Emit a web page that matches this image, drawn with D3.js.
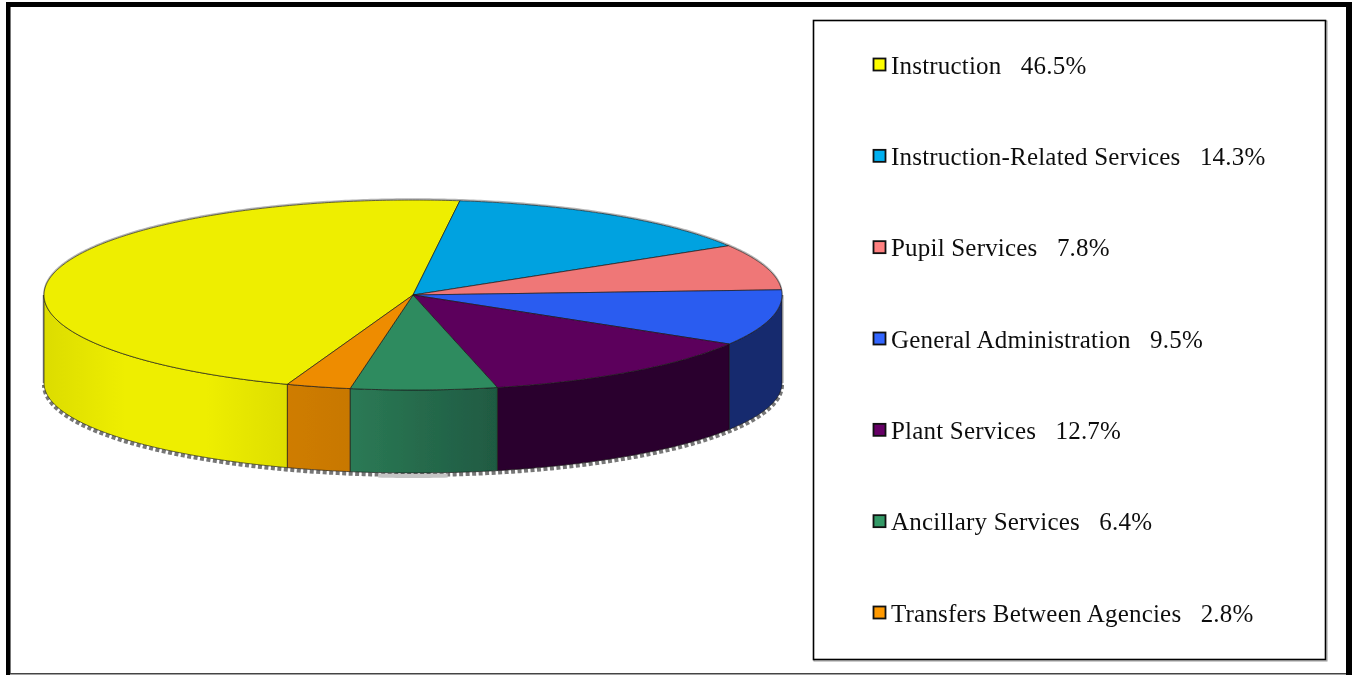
<!DOCTYPE html>
<html>
<head>
<meta charset="utf-8">
<script src="https://cdn.jsdelivr.net/npm/d3@7"></script>
<style>
	html, body { margin: 0; padding: 0; background: #fff; overflow: hidden; }
	svg { display: block; }
	.legendLabel { font-family: "Liberation Serif", serif; font-size: 25px; letter-spacing: 0.2px; fill: #111; white-space: pre; }
</style>
</head>
<body>
<script>
//* chart data
var categories = ['Instruction', 'Instruction-Related Services', 'Pupil Services', 'General Administration', 'Plant Services', 'Ancillary Services', 'Transfers Between Agencies'];
var shares = [46.5, 14.3, 7.8, 9.5, 12.7, 6.4, 2.8];

//* colours
var topColors = ['#eeee00', '#00a2e0', '#ef7777', '#2a5cf0', '#5c005c', '#2e8b5e', '#ee8c00'];
var legendColors = ['#ffff00', '#00b0f0', '#ff8080', '#3366ff', '#660066', '#339966', '#ff9900'];
var wallColors = [
	['#dcdc00', '#eeee00', '#eeee00', '#dede00'],
	['#006a94', '#006a94'],
	['#9c4e4e', '#9c4e4e'],
	['#122a6e', '#122a6e'],
	['#2b002e', '#2b002e'],
	['#2b7a55', '#1f5a42'],
	['#cf7c00', '#c87800']
];

var WIDTH = 1353, HEIGHT = 675;
var START_ANGLE = 199.9 * Math.PI / 180;

var svg = d3.select('body').append('svg')
	.attr('width', WIDTH)
	.attr('height', HEIGHT);

var defs = svg.append('defs');

defs.append('filter')
	.attr('id', 'soft')
	.attr('x', '-5%').attr('y', '-5%').attr('width', '110%').attr('height', '110%')
	.append('feGaussianBlur')
	.attr('stdDeviation', 0.45);

//* projection of the pie disc, unit circle to pixels
var x = d3.scaleLinear().domain([-1, 1]).range([44, 782]);
var yTop = d3.scaleLinear().domain([-1, 1]).range([390, 200]);
var yBottom = d3.scaleLinear().domain([-1, 1]).range([473, 293]);

var slices = d3.pie()
	.sort(null)
	.startAngle(START_ANGLE)
	.endAngle(START_ANGLE + 2 * Math.PI)(shares);

var line = d3.line();

function rim( from, to, yScale ) {
	var n = Math.max( 2, Math.ceil( Math.abs( to - from ) / 0.01 ) );
	return d3.range( n + 1 ).map( function( i ) {
		var a = from + ( to - from ) * i / n;
		return [ x( Math.sin( a ) ), yScale( Math.cos( a ) ) ];
	});
}

//* the front of the pie runs from 90 to 270 degrees
function visibleParts( d ) {
	var parts = [];
	var q = Math.PI / 2;
	[ [ q, 3 * q ], [ q + 2 * Math.PI, 3 * q + 2 * Math.PI ] ].forEach( function( w ) {
		var a = Math.max( d.startAngle, w[0] ), b = Math.min( d.endAngle, w[1] );
		if ( b > a ) parts.push( [ a, b ] );
	});
	return parts;
}

//* FRAME
var frame = svg.append('g');
frame.append('rect').attr('x', 6).attr('y', 2).attr('width', 1346).attr('height', 5).attr('fill', '#000');
frame.append('rect').attr('x', 6).attr('y', 2).attr('width', 4).attr('height', 673).attr('fill', '#000');
frame.append('rect').attr('x', 10).attr('y', 7).attr('width', 1).attr('height', 667).attr('fill', '#777');
frame.append('rect').attr('x', 1346).attr('y', 2).attr('width', 6).attr('height', 673).attr('fill', '#000');
frame.append('rect').attr('x', 10).attr('y', 673).attr('width', 1336).attr('height', 1.5).attr('fill', '#444');

var pie3d = svg.append('g').attr('filter', 'url(#soft)');

//* SHADOW RIMS
pie3d.append('path')
	.attr('d', line( rim( -Math.PI / 2 - 0.02, Math.PI / 2 + 0.02, yTop ).map( function( p ) { return [ p[0], p[1] - 1 ]; } ) ))
	.attr('fill', 'none')
	.attr('stroke', '#b5b5b5')
	.attr('stroke-width', 1.5);

pie3d.append('path')
	.attr('d', line( rim( Math.PI / 2, 3 * Math.PI / 2, yBottom ).map( function( p ) { return [ p[0], p[1] + 2 ]; } ) ))
	.attr('fill', 'none')
	.attr('stroke', '#777')
	.attr('stroke-width', 4)
	.attr('stroke-dasharray', '4 2.5');

pie3d.append('path')
	.attr('d', line( rim( 0.97 * Math.PI, 1.03 * Math.PI, yBottom ).map( function( p ) { return [ p[0], p[1] + 3 ]; } ) ))
	.attr('fill', 'none')
	.attr('stroke', '#c4c4c4')
	.attr('stroke-width', 4);

pie3d.append('line')
	.attr('x1', x(-1) - 0.5).attr('x2', x(-1) - 0.5)
	.attr('y1', yTop(0)).attr('y2', yBottom(0))
	.attr('stroke', '#888')
	.attr('stroke-width', 1.5);

pie3d.append('line')
	.attr('x1', x(1) + 1).attr('x2', x(1) + 1)
	.attr('y1', yTop(0)).attr('y2', yBottom(0))
	.attr('stroke', '#bbb')
	.attr('stroke-width', 1.5);

//* WALLS
slices.forEach( function( d, i ) {

	visibleParts( d ).forEach( function( part, p ) {

		var id = 'wall-' + i + '-' + p;
		var upper = rim( part[0], part[1], yTop );
		var lower = rim( part[1], part[0], yBottom );
		var grad = defs.append('linearGradient')
			.attr('id', id)
			.attr('gradientUnits', 'userSpaceOnUse')
			.attr('x1', d3.min( upper, function( q ) { return q[0]; } ))
			.attr('x2', d3.max( upper, function( q ) { return q[0]; } ))
			.attr('y1', 0)
			.attr('y2', 0);

		wallColors[i].forEach( function( c, k ) {
			grad.append('stop')
				.attr('offset', k / ( wallColors[i].length - 1 ))
				.attr('stop-color', c);
		});

		pie3d.append('path')
			.attr('d', line( upper.concat( lower ) ) + 'Z')
			.attr('fill', 'url(#' + id + ')')
			.attr('stroke', '#1a1a1a')
			.attr('stroke-opacity', 0.75)
			.attr('stroke-width', 0.9);
	});
});

//* TOP FACE
slices.forEach( function( d, i ) {

	var centre = [ x( 0 ), yTop( 0 ) ];

	pie3d.append('path')
		.attr('d', line( [ centre ].concat( rim( d.startAngle, d.endAngle, yTop ) ) ) + 'Z')
		.attr('fill', topColors[i])
		.attr('stroke', '#1a1a1a')
		.attr('stroke-opacity', 0.75)
		.attr('stroke-width', 0.9)
		.attr('stroke-linejoin', 'round');
});

//* LEGEND
var legendY = d3.scalePoint().domain( categories ).range([65, 613]);

var legend = svg.append('g');

legend.append('rect')
	.attr('x', 814).attr('y', 21)
	.attr('width', 513).attr('height', 640)
	.attr('fill', 'none')
	.attr('stroke', '#999')
	.attr('stroke-width', 1);

legend.append('rect')
	.attr('x', 813.5).attr('y', 20.5)
	.attr('width', 512).attr('height', 639)
	.attr('fill', '#fff')
	.attr('stroke', '#000')
	.attr('stroke-width', 1.6);

var rows = legend.selectAll('.legendRow')
	.data( categories )
	.enter().append('g')
	.attr('class', 'legendRow')
	.attr('transform', function( d ) { return 'translate(0,' + legendY( d ) + ')'; });

rows.append('rect')
	.attr('x', 873.5).attr('y', -6.5)
	.attr('width', 12).attr('height', 12)
	.attr('fill', function( d, i ) { return legendColors[i]; })
	.attr('stroke', '#111')
	.attr('stroke-width', 1.8);

rows.append('text')
	.attr('class', 'legendLabel')
	.attr('x', 891)
	.attr('y', 8.5)
	.attr('filter', 'url(#soft)')
	.text( function( d, i ) { return d + '   ' + shares[i].toFixed(1) + '%'; });
</script>
</body>
</html>
